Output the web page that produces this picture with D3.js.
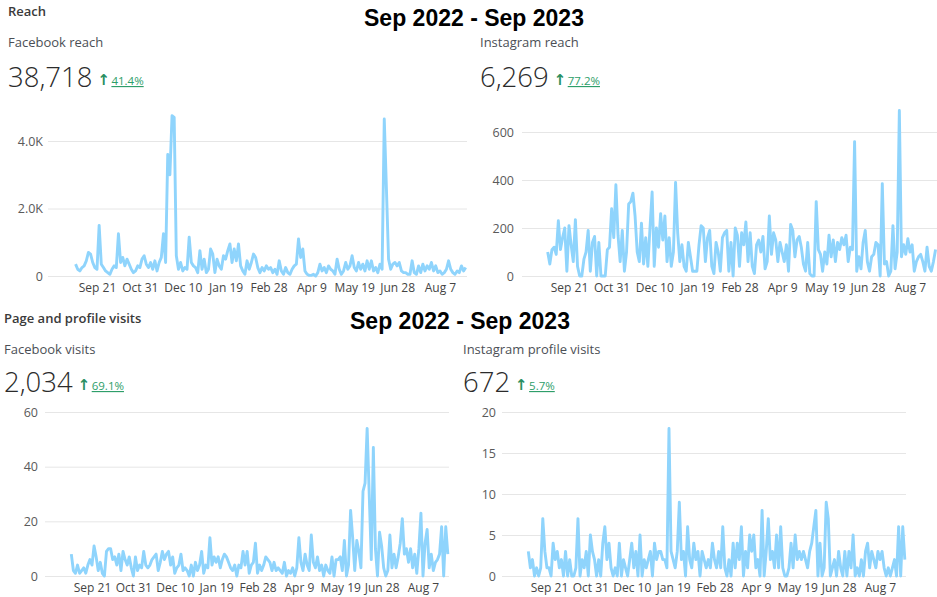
<!DOCTYPE html>
<html>
<head>
<meta charset="utf-8">
<script src="https://cdn.jsdelivr.net/npm/d3@7"></script>
<style>
  body { margin: 0; background: #fff; }
  svg text { font-family: "Open Sans", "Noto Sans", sans-serif; }
</style>
</head>
<body>
<div id="chart"></div>
<script>
// daily data sampled every 2 days, Sep 1 2022 .. Aug 31 2023
var startDate = new Date(2022, 8, 1);
var stepDays = 2;
var tickLabels = ["2022-09-21", "2022-10-31", "2022-12-10", "2023-01-19", "2023-02-28",
                  "2023-04-09", "2023-05-19", "2023-06-28", "2023-08-07"];

var sectionTitles = ["Reach", "Page and profile visits"];
var rangeTitle = "Sep 2022 - Sep 2023";
var metricNames = ["Facebook reach", "Instagram reach", "Facebook visits", "Instagram profile visits"];
var metricTotals = ["38,718", "6,269", "2,034", "672"];
var metricChanges = ["41.4%", "77.2%", "69.1%", "5.7%"];

var fbReachTicks = [0, 2000, 4000];
var igReachTicks = [0, 200, 400, 600];
var fbVisitsTicks = [0, 20, 40, 60];
var igVisitsTicks = [0, 5, 10, 15, 20];

var fbReach = [
  350, 200, 150, 250, 300, 450, 700, 650, 400, 250,
  200, 1500, 350, 250, 150, 100, 50, 200, 300, 250, 1250, 400, 550, 300, 500, 350, 200, 100, 150, 300,
  250, 500, 600, 350, 250, 400, 200, 450, 150, 400, 550, 1250, 400, 3600, 3000, 4750, 4700, 600, 200, 400,
  150, 250, 200, 1150, 400, 300, 250, 100, 750, 200, 500, 100, 200, 800, 650, 100, 500, 300, 200, 600,
  500, 750, 950, 400, 800, 450, 950, 300, 150, 50, 450, 200, 400, 650, 550, 250, 100, 250, 150, 300,
  200, 250, 100, 200, 50, 450, 150, 50, 250, 100, 50, 200, 300, 350, 1100, 550, 800, 150, 50, 20,
  20, 50, 0, 100, 350, 150, 250, 100, 300, 200, 150, 50, 500, 200, 50, 150, 400, 200, 300, 600,
  250, 150, 400, 200, 350, 150, 450, 200, 450, 150, 250, 100, 350, 200, 4650, 2600, 500, 200, 350, 400,
  300, 400, 150, 100, 100, 50, 50, 450, 100, 50, 300, 100, 350, 150, 300, 200, 400, 150, 300, 100,
  150, 50, 100, 200, 450, 200, 100, 50, 150, 100, 300, 150, 250
];

var igReach = [
  100, 50, 110, 120, 90, 230, 110, 160, 200, 20,
  210, 130, 60, 235, 40, 0, 0, 70, 100, 190, 20, 140, 165, 0, 140, 0, 0, 0, 110, 120,
  280, 160, 380, 170, 60, 190, 20, 100, 300, 310, 345, 250, 100, 60, 220, 50, 160, 40, 200, 350,
  40, 200, 120, 260, 150, 250, 60, 160, 40, 100, 390, 180, 60, 130, 40, 20, 140, 80, 20, 20,
  20, 130, 210, 200, 60, 160, 190, 40, 10, 140, 100, 20, 160, 180, 190, 20, 140, 0, 200, 170,
  40, 180, 130, 225, 60, 180, 40, 10, 130, 150, 100, 165, 30, 60, 250, 90, 180, 150, 60, 140,
  100, 60, 130, 20, 215, 190, 80, 150, 165, 120, 50, 20, 140, 10, 0, 0, 310, 110, 90, 20,
  100, 50, 170, 80, 150, 60, 140, 110, 160, 130, 170, 60, 120, 110, 560, 20, 80, 30, 140, 190,
  60, 20, 80, 90, 140, 130, 0, 385, 50, 60, 0, 20, 210, 30, 100, 690, 80, 130, 90, 155,
  100, 130, 20, 60, 80, 90, 60, 20, 120, 40, 20, 60, 110
];

var fbVisits = [
  8, 2, 1, 4, 1, 2, 3, 1, 4, 6,
  4, 11, 7, 2, 5, 1, 0, 9, 10, 10, 6, 7, 4, 8, 2, 9, 6, 4, 7, 3,
  0, 7, 2, 4, 3, 9, 4, 3, 4, 6, 7, 8, 2, 5, 9, 6, 8, 9, 4, 7,
  1, 3, 4, 8, 2, 3, 2, 0, 4, 0, 5, 2, 4, 9, 1, 4, 3, 14, 4, 7,
  5, 7, 3, 6, 8, 7, 5, 3, 2, 4, 0, 4, 3, 9, 4, 9, 1, 4, 5, 12,
  1, 4, 2, 4, 7, 6, 5, 2, 5, 2, 3, 2, 1, 5, 0, 2, 1, 3, 0, 3,
  14, 5, 2, 8, 4, 2, 15, 5, 3, 7, 2, 4, 0, 4, 2, 1, 7, 0, 6, 6,
  7, 2, 13, 0, 4, 24, 14, 2, 13, 9, 3, 31, 34, 54, 30, 6, 47, 10, 0, 16,
  11, 3, 0, 2, 15, 3, 8, 3, 7, 12, 21, 8, 10, 5, 10, 3, 8, 1, 10, 23,
  0, 12, 17, 3, 8, 2, 5, 6, 8, 18, 0, 18, 8
];

var igVisits = [
  3, 1, 2, 0, 1, 0, 1, 7, 3, 1,
  1, 0, 4, 2, 3, 1, 2, 0, 3, 0, 2, 0, 0, 1, 7, 0, 2, 1, 3, 0,
  5, 3, 2, 0, 2, 0, 4, 6, 2, 4, 1, 0, 1, 0, 4, 0, 2, 1, 0, 2,
  4, 1, 3, 0, 5, 0, 2, 1, 2, 3, 0, 4, 2, 3, 3, 2, 2, 1, 18, 3,
  2, 1, 3, 9, 2, 3, 0, 6, 2, 1, 4, 2, 3, 0, 3, 2, 1, 2, 1, 4,
  2, 1, 3, 1, 6, 1, 0, 2, 0, 4, 1, 4, 2, 6, 0, 3, 1, 5, 3, 5,
  1, 2, 0, 8, 0, 3, 7, 2, 3, 1, 5, 1, 6, 1, 0, 0, 1, 4, 1, 5,
  2, 3, 2, 3, 2, 1, 3, 4, 6, 8, 0, 4, 0, 1, 9, 7, 0, 1, 2, 0,
  3, 1, 0, 3, 0, 3, 1, 5, 0, 1, 0, 2, 0, 3, 4, 1, 3, 2, 1, 3,
  2, 3, 1, 0, 1, 0, 1, 2, 0, 6, 0, 6, 2
];

var parseDay = d3.timeParse("%Y-%m-%d");
var tickDates = tickLabels.map(parseDay);
var fmtDate = d3.timeFormat("%b %-d");
function kFormat(d) { return d === 0 ? "0" : d3.format(".1f")(d / 1000) + "K"; }

var lineColor = "#8fd4fc";
var width = 937, height = 597;

var svg = d3.select("#chart").append("svg")
    .attr("width", width)
    .attr("height", height);

// layout of the four panels
var panels = [
  { data: fbReach,  ticks: fbReachTicks,  fmt: kFormat, xa: 97,  xb: 440, yBase: 276, yTop: 141, gridL: 48,  gridR: 467, gap: 5, xLabelY: 292 },
  { data: igReach,  ticks: igReachTicks,  fmt: String,  xa: 569, xb: 910, yBase: 276, yTop: 132, gridL: 522, gridR: 937, gap: 8, xLabelY: 292 },
  { data: fbVisits, ticks: fbVisitsTicks, fmt: String,  xa: 92,  xb: 423, yBase: 576, yTop: 412, gridL: 45,  gridR: 449, gap: 7, xLabelY: 592 },
  { data: igVisits, ticks: igVisitsTicks, fmt: String,  xa: 549, xb: 880, yBase: 576, yTop: 412, gridL: 502, gridR: 906, gap: 6, xLabelY: 592 }
];

panels.forEach(function(p) {
  var dates = p.data.map(function(d, i) { return d3.timeDay.offset(startDate, i * stepDays); });

  var x = d3.scaleTime()
      .domain([tickDates[0], tickDates[tickDates.length - 1]])
      .range([p.xa, p.xb]);
  var y = d3.scaleLinear()
      .domain([0, p.ticks[p.ticks.length - 1]])
      .range([p.yBase, p.yTop]);

  var yAxis = d3.axisLeft(y)
      .tickValues(p.ticks)
      .tickFormat(p.fmt)
      .tickSize(-(p.gridR - p.gridL))
      .tickPadding(p.gap);

  var gy = svg.append("g")
      .attr("transform", "translate(" + p.gridL + ",0)")
      .call(yAxis);
  gy.select(".domain").remove();
  gy.selectAll(".tick line").attr("stroke", "#e6e6e6");
  gy.selectAll(".tick text")
      .attr("fill", "#5a5a5a")
      .attr("font-size", 12.5)
      .attr("font-family", "'Open Sans', sans-serif");

  var xAxis = d3.axisBottom(x)
      .tickValues(tickDates)
      .tickFormat(fmtDate)
      .tickSize(0);

  var gx = svg.append("g")
      .attr("transform", "translate(0," + p.yBase + ")")
      .call(xAxis);
  gx.select(".domain").remove();
  gx.selectAll(".tick text")
      .attr("y", p.xLabelY - p.yBase)
      .attr("dy", 0)
      .attr("fill", "#444")
      .attr("font-size", 12)
      .attr("font-family", "'Open Sans', sans-serif");

  var line = d3.line()
      .x(function(d, i) { return x(dates[i]); })
      .y(function(d) { return y(d); });

  svg.append("path")
      .datum(p.data)
      .attr("fill", "none")
      .attr("stroke", lineColor)
      .attr("stroke-width", 2.9)
      .attr("stroke-linejoin", "round")
      .attr("d", line);
});

// headers
var heads = [
  { sx: 8, sy: 15.5, tx: 474, ty: 26 },
  { sx: 4, sy: 323, tx: 460, ty: 329 }
];
heads.forEach(function(h, i) {
  svg.append("text")
      .attr("x", h.sx).attr("y", h.sy)
      .attr("font-size", 13).attr("font-weight", 600)
      .attr("fill", "#3a3a3a")
      .text(sectionTitles[i]);
  svg.append("text")
      .attr("x", h.tx).attr("y", h.ty)
      .attr("text-anchor", "middle")
      .attr("font-size", 23).attr("font-weight", 700)
      .attr("fill", "#000")
      .style("font-family", "'Liberation Sans', Arial, sans-serif")
      .text(rangeTitle);
});

var metricPos = [
  { x: 8,   nameY: 47,  valY: 87 },
  { x: 480, nameY: 47,  valY: 87 },
  { x: 4,   nameY: 354, valY: 392 },
  { x: 463, nameY: 354, valY: 392 }
];
metricPos.forEach(function(m, i) {
  svg.append("text")
      .attr("x", m.x).attr("y", m.nameY)
      .attr("font-size", 13)
      .attr("fill", "#4b4f56")
      .text(metricNames[i]);
  var big = svg.append("text")
      .attr("x", m.x).attr("y", m.valY)
      .attr("font-size", 27.5)
      .attr("font-weight", 300)
      .attr("fill", "#2b2b2b")
      .text(metricTotals[i]);
  var w = big.node().getComputedTextLength();
  svg.append("text")
      .attr("x", m.x + w + 5).attr("y", m.valY - 2)
      .attr("font-size", 15)
      .attr("font-weight", 700)
      .attr("fill", "#2a8f62")
      .style("font-family", "'DejaVu Sans', sans-serif")
      .text("\u2191");
  svg.append("text")
      .attr("x", m.x + w + 19).attr("y", m.valY - 2)
      .attr("font-size", 11.5)
      .attr("fill", "#2e9e6a")
      .attr("text-decoration", "underline")
      .style("text-decoration-style", "dotted")
      .text(metricChanges[i]);
});
</script>
</body>
</html>
